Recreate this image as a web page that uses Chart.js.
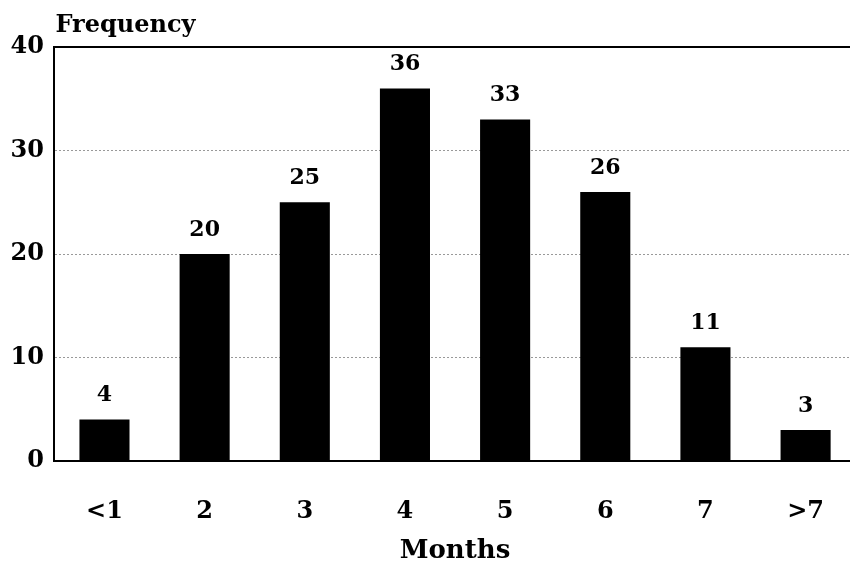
<!DOCTYPE html>
<html>
<head>
<meta charset="utf-8">
<script src="https://cdn.jsdelivr.net/npm/chart.js@4"></script>
<style>
  html, body { margin: 0; padding: 0; background: #fff; overflow: hidden; }
  #wrap { width: 860px; height: 567px; }
</style>
</head>
<body>
<div id="wrap"><canvas id="grafico" width="860" height="567"></canvas></div>
<script>
// datos del gráfico
const meses = ["<1", "2", "3", "4", "5", "6", "7", ">7"];
const frecuencias = [4, 20, 25, 36, 33, 26, 11, 3];
const ticksY = [0, 10, 20, 30, 40];

const fuente = "'DejaVu Serif', 'Liberation Serif', serif";

// etiquetas encima de cada barra y título "Frequency"
const etiquetas = {
    id: "etiquetas",
    afterDatasetsDraw(chart) {
        const ctx = chart.ctx;
        ctx.save();
        ctx.fillStyle = "#000";
        ctx.font = "bold 22px " + fuente;
        ctx.textAlign = "center";
        ctx.textBaseline = "bottom";
        chart.getDatasetMeta(0).data.forEach((bar, i) => {
            ctx.fillText(frecuencias[i], bar.x, bar.y - 13);
        });
        ctx.font = "bold 24px " + fuente;
        ctx.textAlign = "left";
        ctx.textBaseline = "alphabetic";
        ctx.fillText("Frequency", chart.chartArea.left + 1, 32);
        ctx.restore();
    }
};

new Chart(document.getElementById("grafico"), {
    type: "bar",
    data: {
        labels: meses,
        datasets: [{
            data: frecuencias,
            backgroundColor: "#000",
            borderWidth: 0,
            barPercentage: 0.5,
            categoryPercentage: 1
        }]
    },
    options: {
        responsive: false,
        animation: false,
        layout: { padding: { top: 47, left: 0, right: 0, bottom: 0 } },
        plugins: { legend: { display: false }, tooltip: { enabled: false } },
        scales: {
            x: {
                grid: { display: false, drawTicks: false },
                border: { display: true, color: "#000", width: 2 },
                ticks: { color: "#000", font: { family: fuente, size: 24, weight: "bold" }, padding: 36 },
                title: { display: true, text: "Months", color: "#000", font: { family: fuente, size: 26, weight: "bold" }, padding: { top: -26, bottom: 0 } }
            },
            y: {
                min: 0,
                max: 40,
                afterBuildTicks: (axis) => { axis.ticks = ticksY.map(v => ({ value: v })); },
                grid: {
                    drawTicks: false,
                    color: (c) => c.tick && c.tick.value === 40 ? "#000" : "#999",
                    lineWidth: (c) => c.tick && c.tick.value === 40 ? 2 : 1
                },
                border: {
                    display: true, color: "#000", width: 2,
                    dash: (c) => c.tick && c.tick.value === 40 ? [] : [2, 2]
                },
                ticks: { color: "#000", font: { family: fuente, size: 24, weight: "bold" }, padding: 10.5 }
            }
        }
    },
    plugins: [etiquetas]
});
</script>
</body>
</html>
